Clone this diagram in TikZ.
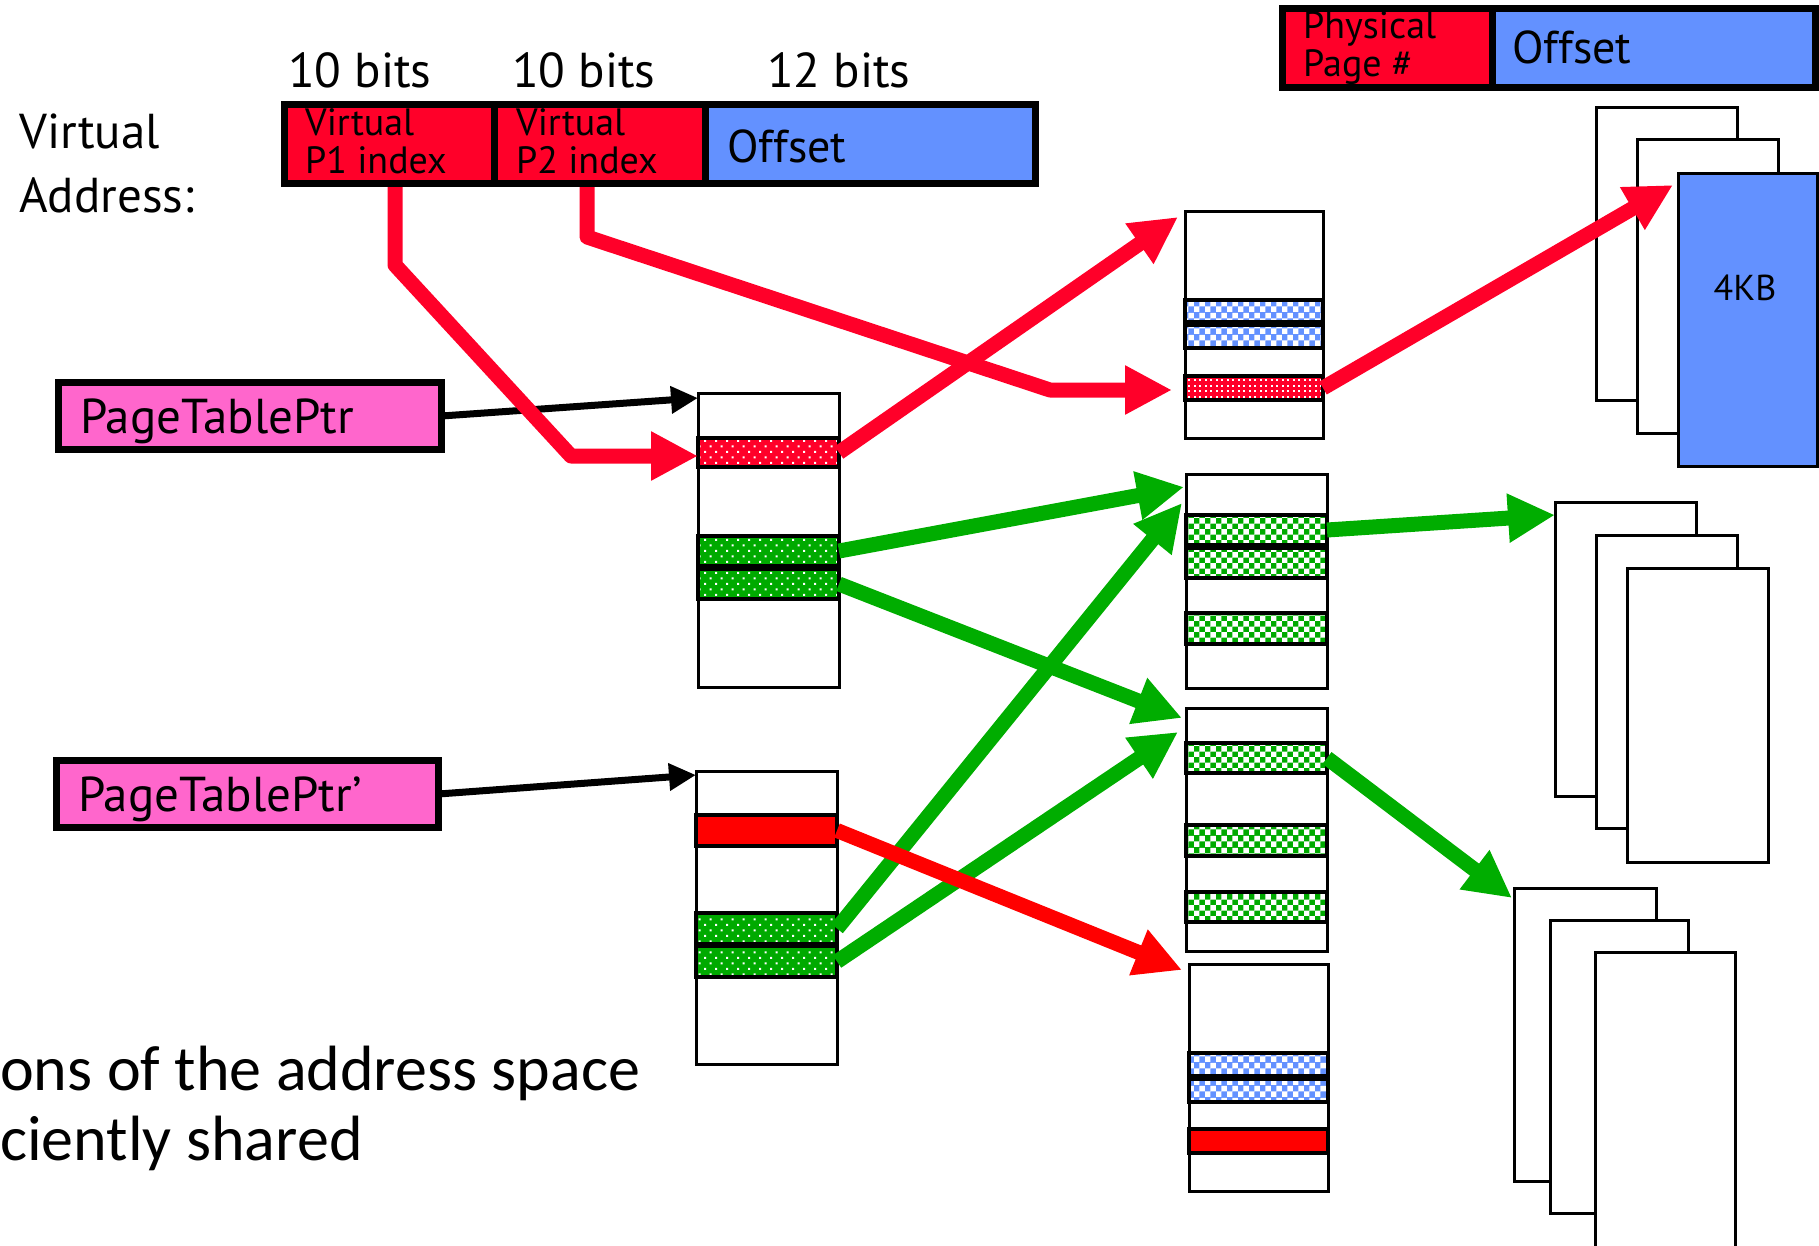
\documentclass[tikz,border=0pt]{standalone}
\usepackage{fontspec}
\newfontfamily\gillf{PT Sans}
\newfontfamily\calf{Carlito}
\usetikzlibrary{arrows.meta,patterns,fit,calc}
\pgfdeclarepatternformonly{sparsedots}{\pgfqpoint{-1pt}{-1pt}}{\pgfqpoint{12pt}{12pt}}{\pgfqpoint{11pt}{11pt}}{%
  \pgfpathrectangle{\pgfqpoint{0pt}{0pt}}{\pgfqpoint{2pt}{2pt}}%
  \pgfpathrectangle{\pgfqpoint{5.5pt}{5.5pt}}{\pgfqpoint{2pt}{2pt}}%
  \pgfusepath{fill}}
\pgfdeclarepatternformonly{densedots}{\pgfqpoint{-1pt}{-1pt}}{\pgfqpoint{6pt}{6pt}}{\pgfqpoint{5.5pt}{5.5pt}}{%
  \pgfpathrectangle{\pgfqpoint{0pt}{0pt}}{\pgfqpoint{2pt}{2pt}}%
  \pgfusepath{fill}}
\definecolor{vred}{RGB}{255,0,41}
\definecolor{pred}{RGB}{255,0,0}
\definecolor{vblue}{RGB}{99,145,255}
\definecolor{vgreen}{RGB}{0,170,0}
\definecolor{agreen}{RGB}{0,173,0}
\definecolor{vpink}{RGB}{255,102,204}
\begin{document}
\begin{tikzpicture}[x=1pt,y=-1pt,
  big/.style={font=\gillf\fontsize{49}{49}\selectfont, anchor=base west, inner sep=0},
  small/.style={font=\gillf\fontsize{38}{38}\selectfont, anchor=base west, inner sep=0},
  offs/.style={font=\gillf\fontsize{46}{46}\selectfont, anchor=base west, inner sep=0},
  ptptext/.style={font=\gillf\fontsize{49}{49}\selectfont, anchor=base west, inner sep=0},
  caltext/.style={font=\calf\fontsize{64}{64}\selectfont, anchor=base west, inner sep=0},
  vcell/.style={inner sep=0, outer sep=0},
  ptpbox/.style={draw, line width=7, fill=vpink, inner sep=0, outer sep=0},
  tbl/.style={draw, line width=3, fill=white, inner sep=0, outer sep=0},
  pagebox/.style={draw, line width=3, fill=white, inner sep=0, outer sep=0},
  dotred/.style={preaction={fill=vred}, preaction={pattern=sparsedots, pattern color=white}, draw, line width=3.5, inner sep=0, outer sep=0},
  denred/.style={preaction={fill=vred}, preaction={pattern=densedots, pattern color=white}, draw, line width=3.5, inner sep=0, outer sep=0},
  solred/.style={fill=pred, draw, line width=3.5, inner sep=0, outer sep=0},
  dotgreen/.style={preaction={fill=vgreen}, preaction={pattern=sparsedots, pattern color=white}, draw, line width=3.5, inner sep=0, outer sep=0},
  chkgreen/.style={preaction={fill=vgreen}, preaction={pattern=checkerboard, pattern color=white}, draw, line width=3.5, inner sep=0, outer sep=0},
  chkblue/.style={preaction={fill=vblue}, preaction={pattern=checkerboard, pattern color=white}, draw, line width=3.5, inner sep=0, outer sep=0},
  blkarr/.style={draw=black, line width=7, -{Triangle[length=27pt,width=26pt]}},
  redarr/.style={draw=vred, line width=15, line join=round, -{Triangle[length=47pt,width=46pt]}},
  prarr/.style={draw=pred, line width=15, -{Triangle[length=47pt,width=46pt]}},
  grarr/.style={draw=agreen, line width=15, -{Triangle[length=47pt,width=46pt]}}
]
\useasboundingbox (0,0) rectangle (1819,1245);

% ---- labels above virtual address
\node[big] (b1) at (288,87) {10 bits};
\node[big] (b2) at (512,87) {10 bits};
\node[big] (b3) at (767,87) {12 bits};
\node[big] (vl1) at (19,148) {Virtual};
\node[big] (vl2) at (19,212) {Address:};

% ---- virtual address box
\node[vcell, fill=vred, fit={(284.5,104.5) (494,183.5)}] (va1) {};
\node[vcell, fill=vred, fit={(494,104.5) (705,183.5)}] (va2) {};
\node[vcell, fill=vblue, fit={(705,104.5) (1035.5,183.5)}] (va3) {};
\node[small] (va1a) at (305,135) {Virtual};
\node[small] (va1b) at (305,173) {P1 index};
\node[small] (va2a) at (516,135) {Virtual};
\node[small] (va2b) at (516,173) {P2 index};
\node[offs] (va3a) at (727,162) {Offset};
\foreach \c in {va1,va2,va3}
  \draw[line width=7] (\c.north west) rectangle (\c.south east);

% ---- physical address box
\node[vcell, fill=vred, fit={(1282.5,8.5) (1492.5,87.5)}] (pa1) {};
\node[vcell, fill=vblue, fit={(1492.5,8.5) (1815.5,87.5)}] (pa2) {};
\node[small] (pa1a) at (1303,38) {Physical};
\node[small] (pa1b) at (1303,76) {Page \#};
\node[offs] (pa2a) at (1512,63) {Offset};
\foreach \c in {pa1,pa2}
  \draw[line width=7] (\c.north west) rectangle (\c.south east);

% ---- page stacks
\node[pagebox, fit={(1596,107) (1737,400)}] (s1a) {};
\node[pagebox, fit={(1637,139) (1778,433)}] (s1b) {};
\node[pagebox, fill=vblue, fit={(1678,173) (1817,466)}] (s1c) {};
\node[font=\gillf\fontsize{36}{36}\selectfont, anchor=base, inner sep=0] (kb) at (1745,300) {4KB};

\node[pagebox, fit={(1555,502) (1696,796)}] (s2a) {};
\node[pagebox, fit={(1596,535) (1737,828)}] (s2b) {};
\node[pagebox, fit={(1627,568) (1768,862)}] (s2c) {};

\node[pagebox, fit={(1514,888) (1656,1181)}] (s3a) {};
\node[pagebox, fit={(1550,920) (1688,1213)}] (s3b) {};
\node[pagebox, fit={(1595,952) (1735,1262)}] (s3c) {};

% ---- page table pointers
\node[ptpbox, fit={(58.5,382.5) (441.5,449.5)}] (ptp) {};
\node[ptptext] (ptpt) at (80,433) {PageTablePtr};
\node[ptpbox, fit={(56.5,760.5) (438.5,827.5)}] (ptq) {};
\node[ptptext] (ptqt) at (78,811) {PageTablePtr’};

% ---- first-level tables
\node[tbl, fit={(698,393) (839,687)}] (t1) {};
\node[dotred, fit={(698,438) (839,467)}] (t1r) {};
\node[dotgreen, fit={(698,536) (839,566)}] (t1g1) {};
\node[dotgreen, fit={(698,569) (839,599)}] (t1g2) {};

\node[tbl, fit={(696,771) (837,1064)}] (t2) {};
\node[solred, fit={(696,815) (837,846)}] (t2r) {};
\node[dotgreen, fit={(696,913) (837,944)}] (t2g1) {};
\node[dotgreen, fit={(696,946) (837,977)}] (t2g2) {};

% ---- second-level tables
\node[tbl, fit={(1185,211) (1323,438)}] (t3) {};
\node[chkblue, fit={(1185,300) (1323,322)}] (t3b1) {};
\node[chkblue, fit={(1185,325) (1323,348)}] (t3b2) {};
\node[denred, fit={(1185,376) (1323,400)}] (t3r) {};

\node[tbl, fit={(1186,474) (1327,688)}] (t4) {};
\node[chkgreen, fit={(1186,515) (1327,545)}] (t4g1) {};
\node[chkgreen, fit={(1186,548) (1327,578)}] (t4g2) {};
\node[chkgreen, fit={(1186,613) (1327,644)}] (t4g3) {};

\node[tbl, fit={(1186,708) (1327,951)}] (t5) {};
\node[chkgreen, fit={(1186,743) (1327,773)}] (t5g1) {};
\node[chkgreen, fit={(1186,825) (1327,856)}] (t5g2) {};
\node[chkgreen, fit={(1186,892) (1327,922)}] (t5g3) {};

\node[tbl, fit={(1189,964) (1328,1191)}] (t6) {};
\node[chkblue, fit={(1189,1053) (1328,1076)}] (t6b1) {};
\node[chkblue, fit={(1189,1079) (1328,1102)}] (t6b2) {};
\node[solred, fit={(1189,1129) (1328,1153)}] (t6r) {};

% ---- bottom text
\node[caltext] (tx1) at (0,1090) {ons of the address space};
\node[caltext] (tx2) at (0,1160) {ciently shared};

% ---- black arrows
\draw[blkarr] (ptp.east) -- ($(t1.north west)+(0,5)$);
\draw[blkarr] (ptq.east) -- ($(t2.north west)+(0,4)$);

% ---- green arrows
\draw[grarr] (t1g1.east) -- ($(t4.north west)+(-2,13)$);
\draw[grarr] (t1g2.east) -- ($(t5.north west)+(-4,10)$);
\draw[grarr] (t2g1.east) -- ($(t4.north west)+(-4,29)$);
\draw[grarr] (t2g2.east) -- ($(t5.north west)+(-8,24)$);
\draw[grarr] (t4g1.east) -- ($(s2a.north west)+(0,13)$);
\draw[grarr] (t5g1.east) -- ($(s3a.north west)+(-2,10)$);

% ---- red arrows
\coordinate (p1s) at ($(va1.south)+(5.75,3.5)$);
\coordinate (p1a) at (395,265);
\coordinate (p1b) at (571,456);
\draw[redarr] (p1s) -- (p1a) -- (p1b) -- ($(t1r.west)+(0,3.5)$);
\coordinate (p2s) at ($(va2.south)+(-12.5,3.5)$);
\coordinate (p2a) at (587,237);
\coordinate (p2b) at (1050,390);
\draw[redarr] (p2s) -- (p2a) -- (p2b) -- ($(t3r.west)+(-13,2)$);
\draw[redarr] (t1r.east) -- ($(t3.north west)+(-7,6)$);
\draw[redarr] (t3r.east) -- ($(s1c.north west)+(-5,12)$);
\draw[prarr] (t2r.east) -- ($(t6.north west)+(-7,6)$);
\end{tikzpicture}
\end{document}
